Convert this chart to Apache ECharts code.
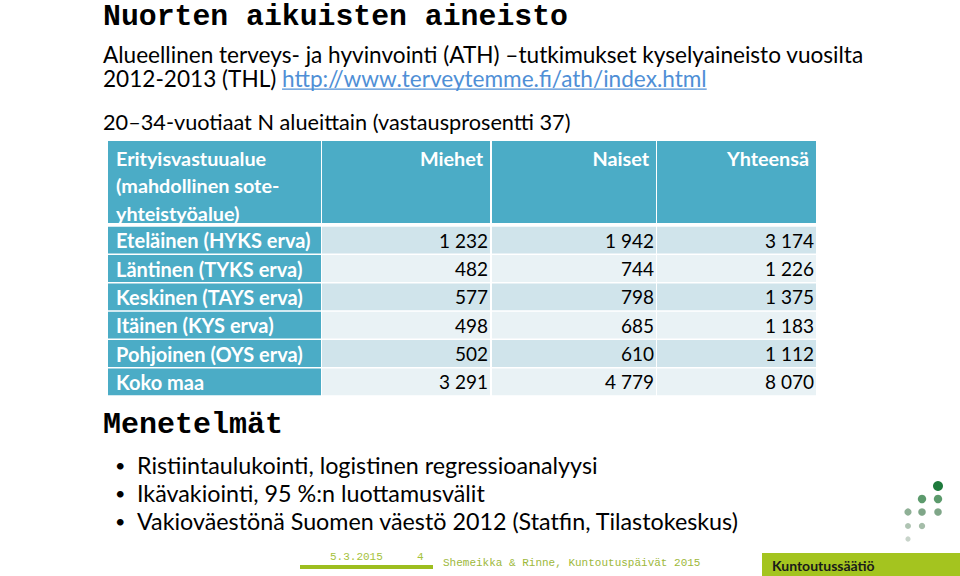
<!DOCTYPE html>
<html><head><meta charset="utf-8">
<script src="https://cdn.jsdelivr.net/npm/echarts@6/dist/echarts.min.js"></script>
<style>html,body{margin:0;padding:0;background:#fff}#c{width:960px;height:576px}</style>
</head><body><div id="c"></div>
<script>
// ---- data ----
var regions = ['Eteläinen (HYKS erva)', 'Läntinen (TYKS erva)', 'Keskinen (TAYS erva)', 'Itäinen (KYS erva)', 'Pohjoinen (OYS erva)', 'Koko maa'];
var columns = ['Miehet', 'Naiset', 'Yhteensä'];
var miehet = [1232, 482, 577, 498, 502, 3291];
var naiset = [1942, 744, 798, 685, 610, 4779];
var yhteensa = [3174, 1226, 1375, 1183, 1112, 8070];
var firstHeader = 'Erityisvastuualue\n(mahdollinen sote-\nyhteistyöalue)';
var title = 'Nuorten aikuisten aineisto';
var subtitle1 = 'Alueellinen terveys- ja hyvinvointi (ATH) –tutkimukset kyselyaineisto vuosilta';
var subtitle2 = '2012-2013 (THL) ';
var link = 'http://www.terveytemme.fi/ath/index.html';
var tableTitle = '20–34-vuotiaat N alueittain (vastausprosentti 37)';
var methodsTitle = 'Menetelmät';
var bullets = ['Ristiintaulukointi, logistinen regressioanalyysi', 'Ikävakiointi, 95 %:n luottamusvälit', 'Vakioväestönä Suomen väestö 2012 (Statfin, Tilastokeskus)'];
var footDate = '5.3.2015', footPage = '4', footText = 'Shemeikka & Rinne, Kuntoutuspäivät 2015', footBrand = 'Kuntoutussäätiö';

var values = [miehet, naiset, yhteensa];
function fmt(n){ return String(n).replace(/\B(?=(\d{3})+(?!\d))/g, ' '); }

// ---- style ----
var TEAL = '#4BACC6', DARK = '#D0E4EB', LIGHT = '#E9F2F5';
var CAL = 'Lato, "Open Sans", sans-serif';
var MONO = '"Liberation Mono", "DejaVu Sans Mono", monospace';
var colLayout = [{left:108,width:213},{left:322,width:168},{left:492,width:164},{left:657,width:159}];
var HEAD_TOP = 141, HEAD_H = 82, BODY_TOP = 226, BODY_H = 170;

var grids = [], xAxes = [], yAxes = [], series = [];
colLayout.forEach(function(cl, k){
  // header grid
  grids.push({left:cl.left, width:cl.width, top:HEAD_TOP, height:HEAD_H, containLabel:false});
  var hx = k === 0 ? ['h'] : [columns[k-1]];
  xAxes.push({type:'category', gridIndex:grids.length-1, data:hx, show:false});
  yAxes.push({type:'category', gridIndex:grids.length-1, data:['h'], show:false});
  var gi = grids.length-1;
  series.push({
    type:'custom', xAxisIndex:gi, yAxisIndex:gi, silent:true,
    data:[[0,0]],
    renderItem:(function(k){ return function(params, api){
      var c = api.coord([0,0]); var s = api.size([1,1]);
      var x0 = c[0]-s[0]/2, y0 = c[1]-s[1]/2;
      var txt = k === 0 ? firstHeader : columns[k-1];
      return {type:'group', children:[
        {type:'rect', shape:{x:x0, y:y0, width:s[0], height:s[1]}, style:{fill:TEAL}},
        {type:'text', style:{text:txt, x: k===0 ? x0+8 : x0+s[0]-7, y:y0+3,
          align: k===0 ? 'left' : 'right', verticalAlign:'top', lineHeight:27.5,
          fill:'#fff', fontFamily:CAL, fontWeight:'bold', fontSize:19.8}}
      ]};
    }; })(k)
  });
  // body grid
  grids.push({left:cl.left, width:cl.width, top:BODY_TOP, height:BODY_H, containLabel:false});
  gi = grids.length-1;
  xAxes.push({type:'category', gridIndex:gi, data:[k===0 ? 'label' : columns[k-1]], show:false});
  yAxes.push({type:'category', gridIndex:gi, data:regions, inverse:true, show:false});
  var data = regions.map(function(r, i){ return [0, i, k===0 ? r : values[k-1][i]]; });
  series.push({
    type:'custom', xAxisIndex:gi, yAxisIndex:gi, silent:true,
    data:data,
    renderItem:(function(k){ return function(params, api){
      var row = api.value(1);
      var c = api.coord([0,row]); var s = api.size([1,1]);
      var x0 = c[0]-s[0]/2, y0 = c[1]-s[1]/2;
      var txt = k === 0 ? regions[row] : fmt(values[k-1][row]);
      var fill = k === 0 ? TEAL : (row % 2 === 0 ? DARK : LIGHT);
      return {type:'group', children:[
        {type:'rect', shape:{x:x0, y:y0+0.75, width:s[0], height:s[1]-1.5}, style:{fill:fill}},
        {type:'text', style:{text:txt, x: k===0 ? x0+8 : x0+s[0]-2, y:c[1],
          align: k===0 ? 'left' : 'right', verticalAlign:'middle',
          fill: k===0 ? '#fff' : '#000', fontFamily:CAL, fontWeight: k===0 ? 'bold' : 'normal', fontSize: k===0 ? 20 : 19}}
      ]};
    }; })(k)
  });
});

// measure text for link underline
var mc = document.createElement('canvas').getContext('2d');
var SUBF = '22.6px ' + CAL;
mc.font = SUBF;
var preW = mc.measureText(subtitle2).width, linkW = mc.measureText(link).width;
var BULF = '23.3px ' + CAL;

var graphic = [
  {type:'text', x:103, y:16.5, style:{text:title, font:'bold 29.8px ' + MONO, fill:'#000', verticalAlign:'middle'}},
  {type:'text', x:103, y:54.5, style:{text:subtitle1, font:SUBF, fill:'#000', verticalAlign:'middle'}},
  {type:'text', x:103, y:78, style:{text:subtitle2, font:SUBF, fill:'#000', verticalAlign:'middle'}},
  {type:'text', x:103+preW, y:78, style:{text:link, font:SUBF, fill:'#4F8FD6', verticalAlign:'middle'}},
  {type:'rect', shape:{x:103+preW, y:88.5, width:linkW, height:1.2}, style:{fill:'#4F8FD6'}},
  {type:'text', x:103, y:122, style:{text:tableTitle, font:'21.7px ' + CAL, fill:'#000', verticalAlign:'middle'}},
  {type:'text', x:103, y:425, style:{text:methodsTitle, font:'bold 30px ' + MONO, fill:'#000', verticalAlign:'middle'}},
  // footer
  {type:'rect', shape:{x:300, y:565, width:133, height:4}, style:{fill:'#9DBE1F'}},
  {type:'text', x:330, y:557, style:{text:footDate, font:'11px ' + MONO, fill:'#A5C23A', verticalAlign:'middle'}},
  {type:'text', x:417, y:557, style:{text:footPage, font:'11px ' + MONO, fill:'#A5C23A', verticalAlign:'middle'}},
  {type:'text', x:443, y:563, style:{text:footText, font:'11px ' + MONO, fill:'#9DB83A', verticalAlign:'middle'}},
  {type:'rect', shape:{x:762, y:553, width:198, height:23}, style:{fill:'#A4C41F'}},
  {type:'text', x:772, y:565, style:{text:footBrand, font:'bold 14px ' + CAL, fill:'#1a1a1a', verticalAlign:'middle'}}
];
bullets.forEach(function(b, i){
  var y = 465 + i*28;
  graphic.push({type:'text', x:115, y:y, style:{text:'•', font:'18px ' + CAL, fill:'#000', verticalAlign:'middle'}});
  graphic.push({type:'text', x:137, y:y, style:{text:b, font:BULF, fill:'#000', verticalAlign:'middle'}});
});
// logo dots
[[938,486,5,'#1E7A3C'],[922,499,4.2,'#5C9A6C'],[938,499,4.2,'#5C9A6C'],[908,512,3.6,'#8FB096'],[922,512,3.8,'#7FA688'],[938,512,3.8,'#7FA688'],[908,526,3,'#AFC4B3'],[922,526,3.2,'#A5BDA9'],[908,539,2.6,'#C7D3C9']].forEach(function(d){
  graphic.push({type:'circle', shape:{cx:d[0], cy:d[1], r:d[2]}, style:{fill:d[3]}});
});

var chart = echarts.init(document.getElementById('c'), null, {renderer:'svg'});
chart.setOption({
  animation:false,
  backgroundColor:'#fff',
  grid:grids, xAxis:xAxes, yAxis:yAxes, series:series,
  graphic:graphic
});
</script></body></html>
